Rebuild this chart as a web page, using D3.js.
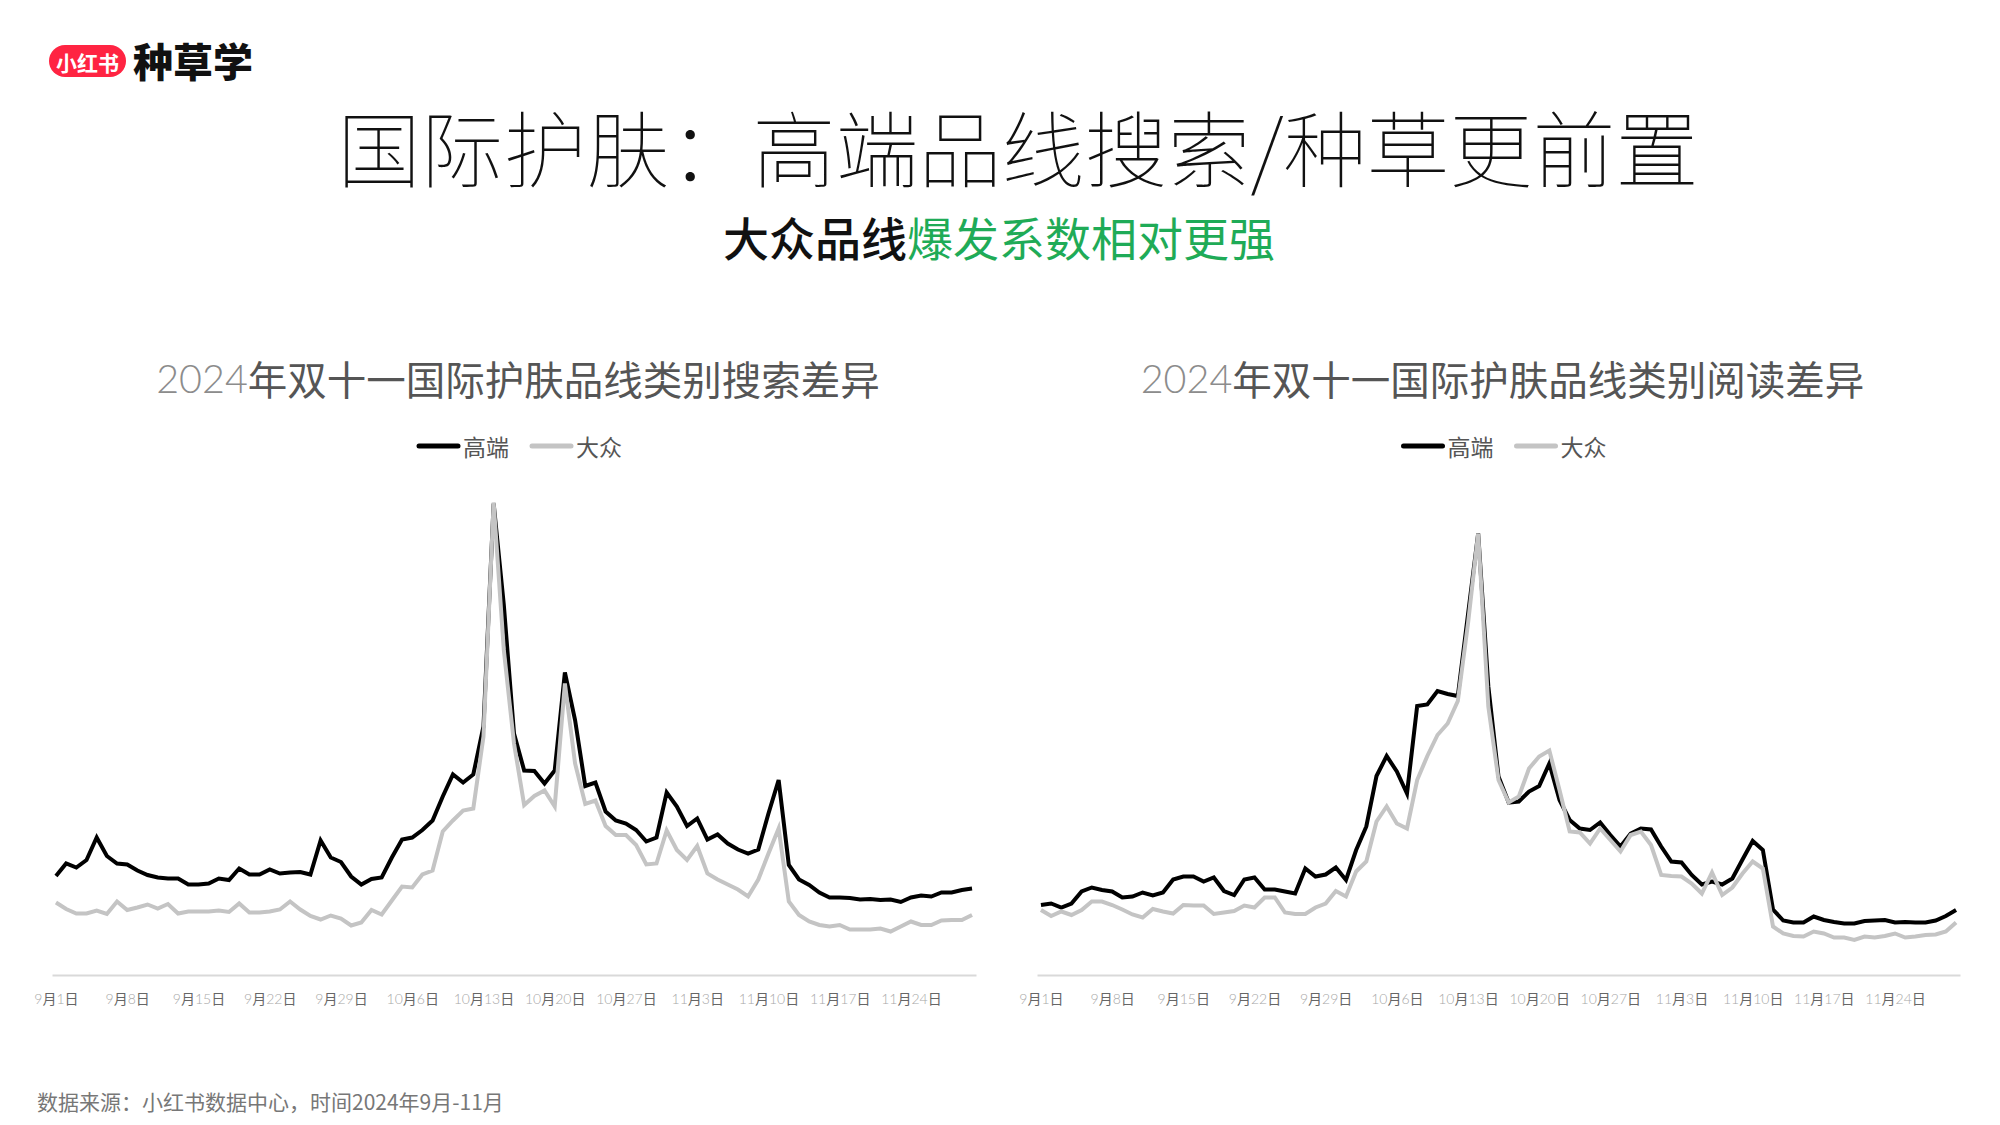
<!DOCTYPE html>
<html><head><meta charset="utf-8">
<script src="https://cdn.jsdelivr.net/npm/d3@7"></script>
<style>
html,body{margin:0;padding:0;background:#fff;}
svg{display:block;}
</style></head>
<body>
<svg id="chart" width="2000" height="1125"></svg>
<script>
// ---------- DATA ----------
const dates = [
"09-01","09-02","09-03","09-04","09-05","09-06","09-07","09-08","09-09","09-10",
"09-11","09-12","09-13","09-14","09-15","09-16","09-17","09-18","09-19","09-20",
"09-21","09-22","09-23","09-24","09-25","09-26","09-27","09-28","09-29","09-30",
"10-01","10-02","10-03","10-04","10-05","10-06","10-07","10-08","10-09","10-10",
"10-11","10-12","10-13","10-14","10-15","10-16","10-17","10-18","10-19","10-20",
"10-21","10-22","10-23","10-24","10-25","10-26","10-27","10-28","10-29","10-30",
"10-31","11-01","11-02","11-03","11-04","11-05","11-06","11-07","11-08","11-09",
"11-10","11-11","11-12","11-13","11-14","11-15","11-16","11-17","11-18","11-19",
"11-20","11-21","11-22","11-23","11-24","11-25","11-26","11-27","11-28","11-29",
"11-30"];
const tickDates = ["09-01","09-08","09-15","09-22","09-29","10-06","10-13","10-20","10-27","11-03","11-10","11-17","11-24"];
const tickLabels = ["9月1日","9月8日","9月15日","9月22日","9月29日","10月6日","10月13日","10月20日","10月27日","11月3日","11月10日","11月17日","11月24日"];
const seriesNames = ["高端","大众"];

// 搜索 (search) – 高端
const searchHigh = [19.8,22.3,21.5,23.0,27.5,23.8,22.3,22.1,20.9,20.0,
19.5,19.3,19.3,18.1,18.1,18.3,19.3,19.0,21.3,20.1,
20.1,21.1,20.3,20.5,20.6,20.1,26.9,23.5,22.6,19.7,
18.1,19.2,19.5,23.5,27.1,27.5,29.0,30.9,35.7,40.1,
38.5,40.1,49.7,94.3,74.0,48.3,40.9,40.8,38.3,40.9,
60.5,51.0,37.8,38.5,32.7,30.9,30.3,29.0,26.7,27.5,
36.5,33.7,29.8,31.3,27.1,28.1,26.3,25.1,24.3,25.1,
32.3,39.0,22.0,19.1,18.0,16.5,15.5,15.5,15.4,15.1,
15.2,15.0,15.1,14.6,15.5,15.9,15.7,16.5,16.5,17.0,
17.3];
// 搜索 (search) – 大众
const searchMass = [14.5,13.2,12.3,12.3,12.9,12.2,14.7,13.0,13.5,14.1,
13.3,14.2,12.3,12.7,12.7,12.7,12.9,12.6,14.3,12.5,
12.5,12.7,13.1,14.7,13.1,11.8,11.1,11.9,11.3,9.9,
10.5,13.0,12.1,14.9,17.7,17.5,20.1,20.9,28.7,30.9,
32.9,33.3,47.7,94.5,65.0,46.3,34.0,35.8,36.9,33.7,
58.3,42.3,34.2,34.9,29.8,28.0,28.0,26.0,22.1,22.3,
28.9,25.0,23.0,25.8,20.3,19.1,18.1,17.1,15.7,19.1,
24.3,29.3,14.7,12.0,10.7,10.0,9.7,10.0,9.1,9.1,
9.1,9.3,8.7,9.7,10.7,10.0,10.0,10.9,11.0,11.0,
12.0];
// 阅读 (read) – 高端
const readHigh = [14.0,14.3,13.5,14.3,16.7,17.5,17.0,16.7,15.5,15.7,
16.5,15.9,16.5,19.1,19.7,19.7,18.7,19.5,16.8,16.0,
19.1,19.5,17.1,17.1,16.7,16.3,21.3,19.7,20.1,21.5,
19.0,25.0,29.7,39.8,43.8,40.7,36.3,53.8,54.1,56.8,
56.2,55.8,72.1,88.3,57.7,39.7,34.5,34.7,36.7,37.8,
42.3,35.0,31.0,29.3,29.0,30.5,28.0,25.7,28.3,29.3,
29.1,25.7,22.7,22.5,20.0,18.1,18.7,18.1,19.3,23.1,
26.8,25.0,13.1,10.9,10.5,10.5,11.7,11.0,10.6,10.3,
10.3,10.8,10.9,11.0,10.5,10.6,10.5,10.5,10.9,11.8,
13.0];
// 阅读 (read) – 大众
const readMass = [13.0,11.8,12.7,12.0,13.0,14.7,14.7,14.0,13.1,12.1,
11.5,13.2,12.7,12.3,14.0,13.9,13.9,12.2,12.5,12.8,
13.9,13.5,15.5,15.5,12.5,12.2,12.2,13.5,14.3,16.8,
15.7,20.7,22.7,30.7,33.7,30.3,29.3,39.0,43.8,48.0,
50.3,54.8,70.3,88.3,53.7,39.0,34.5,35.7,41.3,43.7,
44.9,37.0,28.7,28.5,26.3,29.3,27.0,24.7,28.0,28.7,
26.0,20.0,19.8,19.7,18.3,16.3,20.5,16.0,17.5,20.3,
22.7,21.3,9.7,8.3,7.8,7.7,8.7,8.3,7.5,7.5,
7.0,7.7,7.5,7.8,8.3,7.5,7.7,8.0,8.1,8.7,
10.5];

const panels = [
  {title:"年双十一国际护肤品线类别搜索差异", year:"2024", high:searchHigh, mass:searchMass, x0:52, x1:976},
  {title:"年双十一国际护肤品线类别阅读差异", year:"2024", high:readHigh, mass:readMass, x0:1037, x1:1960}
];

// ---------- DRAW ----------
const svg = d3.select("#chart");
const CJK = "'Noto Sans CJK SC','Noto Sans',sans-serif";
const THIN = "Lato,'Noto Sans CJK SC',sans-serif";

// Logo
svg.append("rect").attr("x",49).attr("y",45).attr("width",77).attr("height",32)
  .attr("rx",16).attr("fill","#ff2442");
svg.append("text").attr("x",87.5).attr("y",61.5).attr("text-anchor","middle")
  .attr("dominant-baseline","central").attr("font-family",CJK).attr("font-weight",700)
  .attr("font-size",21).attr("fill","#fff").text("小红书");
svg.append("text").attr("x",133).attr("y",60).attr("dominant-baseline","central")
  .attr("font-family",CJK).attr("font-weight",900).attr("font-size",40)
  .attr("fill","#111").text("种草学");

// Main title
svg.append("text").attr("x",1018).attr("y",145).attr("text-anchor","middle")
  .attr("dominant-baseline","central").attr("font-family",CJK).attr("font-weight",100)
  .attr("font-size",83).attr("fill","#111").text("国际护肤：高端品线搜索/种草更前置");

// Subtitle
const sub = svg.append("text").attr("x",999).attr("y",236).attr("text-anchor","middle")
  .attr("dominant-baseline","central").attr("font-family",CJK).attr("font-weight",400)
  .attr("font-size",46);
sub.append("tspan").attr("fill","#111").attr("font-weight",500).text("大众品线");
sub.append("tspan").attr("fill","#1fab57").text("爆发系数相对更强");

// Footnote
svg.append("text").attr("x",37).attr("y",1101).attr("dominant-baseline","central")
  .attr("font-family",CJK).attr("font-size",21).attr("fill","#777")
  .text("数据来源：小红书数据中心，时间2024年9月-11月");

const y = d3.scaleLinear().domain([0,100]).range([975,475]);

panels.forEach(p => {
  const x = d3.scalePoint().domain(dates).range([p.x0,p.x1]).padding(0.39);
  const cx = (p.x0 + p.x1)/2;
  const g = svg.append("g");

  // chart title
  const t = g.append("text").attr("x",cx+4).attr("y",377).attr("text-anchor","middle")
    .attr("dominant-baseline","central").attr("font-size",39.5);
  t.append("tspan").attr("font-family",THIN).attr("font-weight",300).attr("fill","#8c8c8c").text(p.year);
  t.append("tspan").attr("font-family",CJK).attr("fill","#555").text(p.title);

  // legend
  const lx = cx + 8 - 103;
  const leg = g.append("g").attr("transform",`translate(${lx},446)`);
  [["#000",0,seriesNames[0]],["#c4c4c4",113,seriesNames[1]]].forEach(([c,off,name])=>{
    leg.append("line").attr("x1",off).attr("x2",off+39).attr("y1",0).attr("y2",0)
      .attr("stroke",c).attr("stroke-width",5).attr("stroke-linecap","round");
    leg.append("text").attr("x",off+44).attr("y",0).attr("dominant-baseline","central")
      .attr("font-family",CJK).attr("font-size",23).attr("fill","#555").text(name);
  });

  // x axis
  const axis = d3.axisBottom(x).tickValues(tickDates).tickSize(0).tickPadding(0)
    .tickFormat((d,i)=>tickLabels[i]);
  const ag = g.append("g").attr("transform",`translate(0,${y(0)})`).call(axis);
  ag.select(".domain").attr("stroke","#d9d9d9").attr("stroke-width",2);
  ag.selectAll(".tick text").each(function(d,i){
    const el = d3.select(this);
    const label = tickLabels[i];
    el.text(null).attr("y",23).attr("dy",null).attr("dominant-baseline","central")
      .attr("font-size",14).attr("font-family",THIN);
    const parts = label.match(/\d+|\D+/g);
    parts.forEach(s=>{
      const digit = /\d/.test(s);
      el.append("tspan").text(s)
        .attr("font-family", digit ? THIN : CJK)
        .attr("font-weight", digit ? 300 : 400)
        .attr("fill", digit ? "#a8a8a8" : "#666");
    });
  });

  const line = d3.line().x((d,i)=>x(dates[i])).y(d=>y(d));
  g.append("path").datum(p.high).attr("d",line).attr("fill","none")
    .attr("stroke","#000").attr("stroke-width",4).attr("stroke-linejoin","miter");
  g.append("path").datum(p.mass).attr("d",line).attr("fill","none")
    .attr("stroke","#c4c4c4").attr("stroke-width",4).attr("stroke-linejoin","miter");
});
</script>
</body></html>
